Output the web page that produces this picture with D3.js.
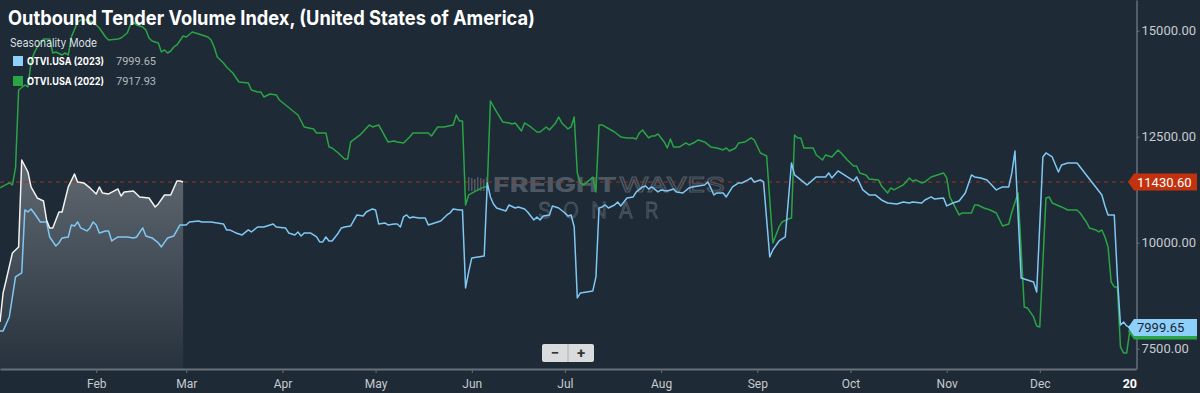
<!DOCTYPE html>
<html>
<head>
<meta charset="utf-8">
<script src="https://cdn.jsdelivr.net/npm/d3@7"></script>
<style>
    body { margin: 0; background: #1e2a36; }
    svg { display: block; }
</style>
</head>
<body>
<svg id="chart" width="1200" height="393"></svg>
<script>
// day offset from Jan 1 (seasonal year), value
const otvi2024 = [
    [0, 8131], [1, 8815], [2, 9121], [4, 9758], [6, 9900], [7, 11951], [9, 11668],
    [10, 11315], [12, 11055], [14, 10984], [15, 10536], [16, 10348], [17, 10348],
    [19, 10725], [20, 10725], [22, 11315], [24, 11621], [25, 11433], [27, 11409],
    [29, 11291], [31, 11150], [32, 11315], [33, 11173], [35, 11150], [38, 11268],
    [39, 11102], [40, 11197], [43, 11220], [45, 11079], [48, 11055], [50, 10843],
    [51, 10914], [53, 11126], [55, 11126], [57, 11456], [58, 11456], [59, 11430.6]
];

const otvi2023 = [
    [0, 7919], [1, 7919], [3, 8249], [4, 8721], [5, 9192], [7, 9287], [8, 10772],
    [9, 10725], [10, 10796], [11, 10701], [13, 10489], [15, 10489], [16, 10135],
    [18, 9923], [19, 9994], [20, 10112], [22, 10135], [23, 10419], [24, 10395],
    [25, 10489], [26, 10348], [28, 10277], [29, 10348], [30, 10489], [31, 10419],
    [32, 10230], [34, 10277], [35, 10277], [36, 10041], [38, 10135], [41, 10135],
    [43, 10112], [44, 10135], [46, 10348], [47, 10159], [49, 10112], [51, 9994],
    [52, 9900], [54, 10112], [56, 10159], [58, 10419], [60, 10419], [61, 10489],
    [64, 10513], [65, 10489], [68, 10489], [72, 10442], [73, 10301], [74, 10301],
    [76, 10230], [78, 10183], [80, 10301], [81, 10253], [83, 10371], [85, 10371],
    [88, 10442], [89, 10371], [92, 10348], [93, 10230], [95, 10183], [96, 10253],
    [97, 10159], [98, 10230], [100, 10230], [102, 10135], [103, 10018], [104, 10018],
    [105, 10135], [106, 10041], [107, 10041], [109, 10230], [110, 10348], [111, 10371],
    [113, 10395], [115, 10654], [117, 10631], [118, 10725], [120, 10796], [121, 10772],
    [122, 10442], [124, 10466], [125, 10419], [127, 10442], [128, 10442], [129, 10371],
    [130, 10607], [131, 10654], [132, 10584], [133, 10607], [135, 10584], [137, 10584],
    [138, 10419], [140, 10466], [142, 10513], [144, 10654], [145, 10701], [146, 10796],
    [148, 10772], [149, 10772], [150, 8933], [151, 9310], [152, 9640], [154, 9664],
    [156, 9687], [157, 11409], [158, 11079], [159, 10914], [160, 10819], [163, 10749],
    [164, 10890], [166, 10819], [167, 10843], [169, 10796], [170, 10725], [172, 10536],
    [173, 10607], [174, 10536], [175, 10631], [177, 10654], [178, 10867], [179, 10843],
    [180, 10819], [182, 10701], [183, 10631], [184, 10654], [185, 10371], [186, 8697],
    [187, 8815], [189, 8839], [191, 8862], [192, 9192], [193, 10819], [194, 10843],
    [195, 10890], [196, 10819], [198, 10890], [199, 10961], [200, 10867], [202, 11055],
    [204, 11079], [205, 11197], [207, 11315], [208, 11338], [209, 11268], [210, 11315],
    [212, 11197], [213, 11244], [215, 11220], [217, 11268], [218, 11197], [220, 11173],
    [222, 11291], [223, 11315], [225, 11338], [227, 11362], [228, 11433], [229, 11291],
    [230, 11126], [231, 11173], [233, 11173], [234, 11079], [236, 11315], [238, 11409],
    [239, 11409], [241, 11480], [242, 11527], [243, 11433], [245, 11480], [246, 11433],
    [248, 9664], [249, 9829], [251, 10041], [253, 10135], [255, 11880], [256, 11598],
    [258, 11480], [260, 11362], [263, 11551], [266, 11551], [267, 11645], [268, 11527],
    [270, 11692], [272, 11598], [275, 11456], [276, 11551], [278, 11244], [280, 11126],
    [282, 11126], [284, 11008], [286, 10937], [289, 10914], [291, 10961], [293, 10937],
    [294, 10961], [297, 10937], [298, 11008], [300, 11079], [301, 11032], [304, 11055],
    [305, 10867], [307, 10937], [309, 10984], [311, 11173], [313, 11598], [314, 11551],
    [316, 11527], [318, 11480], [321, 11244], [323, 11315], [325, 11315], [326, 11645],
    [327, 12163], [329, 9169], [331, 9121], [333, 9074], [334, 8838], [336, 12022],
    [337, 12116], [339, 12022], [341, 11668], [342, 11833], [344, 11880], [347, 11880],
    [348, 11786], [350, 11598], [351, 11503], [353, 11315], [355, 11126], [356, 10867],
    [357, 10654], [359, 10654], [360, 9192], [361, 8060], [362, 8131], [363, 8037],
    [364, 7999.65]
];

const otvi2022 = [
    [0, 11291], [3, 11409], [4, 11362], [5, 11763], [6, 13602], [8, 13720], [9, 13673],
    [10, 14262], [11, 14474], [12, 14616], [14, 14804], [16, 14804], [17, 14474],
    [18, 14498], [20, 14427], [21, 14474], [22, 14427], [23, 14852], [25, 15205],
    [26, 15252], [28, 15252], [30, 15205], [31, 15135], [32, 15064], [34, 14852],
    [35, 14781], [38, 14804], [39, 14828], [41, 14946], [42, 15135], [43, 15205],
    [44, 15135], [46, 15087], [47, 15017], [48, 14828], [49, 14757], [51, 14710],
    [52, 14498], [53, 14545], [54, 14474], [55, 14521], [56, 14616], [57, 14663],
    [59, 14875], [60, 14852], [62, 14969], [63, 14946], [65, 14899], [67, 14852],
    [68, 14781], [69, 14616], [70, 14380], [72, 14238], [73, 14144], [75, 14003],
    [77, 13790], [80, 13767], [81, 13602], [83, 13555], [84, 13555], [85, 13437],
    [87, 13508], [89, 13484], [90, 13366], [92, 13248], [96, 13012], [98, 12729],
    [101, 12682], [102, 12588], [105, 12588], [106, 12258], [107, 12234], [109, 12116],
    [111, 11975], [112, 11975], [113, 12376], [116, 12541], [119, 12777], [120, 12729],
    [122, 12777], [125, 12376], [127, 12399], [128, 12376], [130, 12352], [132, 12494],
    [133, 12588], [138, 12588], [139, 12517], [141, 12729], [143, 12729], [146, 12777],
    [147, 13012], [148, 12871], [149, 12871], [150, 10890], [151, 11126], [154, 11244],
    [156, 11315], [157, 11315], [158, 13342], [160, 13083], [162, 12847], [164, 12824],
    [165, 12800], [166, 12824], [168, 12635], [169, 12824], [170, 12777], [171, 12729],
    [173, 12611], [174, 12611], [176, 12729], [177, 12659], [179, 12824], [180, 12965],
    [181, 12824], [183, 12682], [184, 12729], [185, 12965], [186, 11645], [187, 11409],
    [188, 11362], [190, 11480], [191, 11550], [192, 11197], [193, 12777], [194, 12777],
    [198, 12611], [200, 12494], [202, 12470], [204, 12470], [205, 12446], [206, 12588],
    [207, 12659], [209, 12470], [210, 12517], [211, 12517], [212, 12564], [214, 12376],
    [215, 12234], [216, 12446], [217, 12258], [219, 12258], [221, 12352], [222, 12305],
    [224, 12376], [225, 12423], [227, 12376], [229, 12258], [231, 12234], [233, 12187],
    [234, 12234], [235, 12163], [237, 12234], [238, 12352], [240, 12376], [242, 12470],
    [243, 12423], [245, 12116], [247, 12045], [249, 9994], [250, 10183], [251, 10371],
    [252, 10489], [254, 10560], [255, 10584], [256, 12541], [257, 12470], [258, 12470],
    [259, 12234], [262, 12234], [263, 12069], [265, 11951], [266, 12069], [268, 12022],
    [270, 12187], [271, 12116], [273, 11951], [275, 11810], [276, 11810], [277, 11645],
    [279, 11598], [280, 11503], [283, 11480], [284, 11338], [286, 11173], [287, 11291],
    [288, 11244], [291, 11362], [293, 11527], [294, 11456], [295, 11480], [297, 11409],
    [298, 11433], [300, 11550], [304, 11645], [305, 11527], [306, 11079], [309, 10654],
    [310, 10701], [313, 10701], [314, 10890], [315, 10890], [317, 10819], [319, 10772],
    [321, 10701], [323, 10395], [325, 10442], [326, 10725], [328, 11173], [330, 8485],
    [331, 8461], [333, 8249], [334, 8037], [335, 8013], [337, 11055], [338, 11079],
    [339, 10937], [342, 10843], [344, 10772], [347, 10772], [348, 10701], [350, 10489],
    [351, 10347], [353, 10300], [354, 10253], [355, 10300], [356, 10135], [357, 9900],
    [358, 9074], [359, 8956], [360, 8956], [361, 7542], [362, 7400], [363, 7400],
    [364, 7917.93]
];

const yTicks = [7500, 10000, 12500, 15000];
const monthTicks = ["Feb", "Mar", "Apr", "May", "Jun", "Jul", "Aug", "Sep", "Oct", "Nov", "Dec"];
const endLabel = "20";
const refLine = 11430.6;
const legendNames = ["OTVI.USA (2023)", "OTVI.USA (2022)"];
const legendValues = ["7999.65", "7917.93"];

const bg = "#1e2a36";
const blue = "#80c8f4";
const green = "#2aa545";
const axisGrey = "#66707a";
const labelGrey = "#c6cbd0";

const svg = d3.select("#chart");
svg.append("rect").attr("width", 1200).attr("height", 393).attr("fill", bg);

const plotRight = 1136;
const plotBottom = 369;

const t0 = Date.UTC(2024, 0, 1);
const day = 864e5;
const toDate = (d) => new Date(t0 + d * day);

const x = d3.scaleUtc()
    .domain([new Date(t0), new Date(Date.UTC(2025, 0, 1))])
    .range([0, plotRight]);
const y = d3.scaleLinear()
    .domain([7021, 15724])
    .range([plotBottom, 0]);

const defs = svg.append("defs");
defs.append("clipPath").attr("id", "plot-clip")
    .append("rect").attr("x", 0).attr("y", 0)
    .attr("width", plotRight).attr("height", plotBottom);

const grad = defs.append("linearGradient")
    .attr("id", "area-grad")
    .attr("gradientUnits", "userSpaceOnUse")
    .attr("x1", 0).attr("x2", 0)
    .attr("y1", y(12000)).attr("y2", plotBottom);
grad.append("stop").attr("offset", 0).attr("stop-color", "#ffffff").attr("stop-opacity", 0.3);
grad.append("stop").attr("offset", 1).attr("stop-color", "#ffffff").attr("stop-opacity", 0.04);

// watermark
const wm = svg.append("g").attr("id", "watermark").attr("opacity", 0.5);
d3.range(7).forEach((i) => {
    wm.append("rect")
        .attr("x", 468 + i * 3).attr("y", 177 + (i % 3))
        .attr("width", 1.5).attr("height", 14 - (i % 3))
        .attr("fill", "#7d8690");
});
wm.append("text")
    .attr("x", 493).attr("y", 192)
    .attr("textLength", 124).attr("lengthAdjust", "spacingAndGlyphs")
    .style("font", "800 20px Inter, sans-serif")
    .attr("fill", "#7d8690")
    .text("FREIGHT");
wm.append("text")
    .attr("x", 619).attr("y", 192)
    .attr("textLength", 106).attr("lengthAdjust", "spacingAndGlyphs")
    .style("font", "400 20px Inter, sans-serif")
    .attr("fill", "none").attr("stroke", "#7d8690").attr("stroke-width", 1)
    .text("WAVES");
wm.append("text")
    .attr("x", 538).attr("y", 218)
    .attr("textLength", 120).attr("lengthAdjust", "spacing")
    .style("font", "300 21px Inter, sans-serif")
    .attr("fill", "none").attr("stroke", "#7d8690").attr("stroke-width", 0.9)
    .text("SONAR");

const plot = svg.append("g").attr("clip-path", "url(#plot-clip)");

const line = d3.line()
    .x((d) => x(toDate(d[0])))
    .y((d) => y(d[1]));
const area = d3.area()
    .x((d) => x(toDate(d[0])))
    .y0(plotBottom)
    .y1((d) => y(d[1]));

plot.append("path")
    .datum(otvi2024)
    .attr("d", area)
    .attr("fill", "url(#area-grad)");

plot.append("line")
    .attr("x1", 0).attr("x2", plotRight)
    .attr("y1", y(refLine)).attr("y2", y(refLine))
    .attr("stroke", "#9c3322").attr("stroke-width", 1)
    .attr("stroke-dasharray", "4,4");

const series = [
    { data: otvi2022, color: green },
    { data: otvi2023, color: blue },
    { data: otvi2024, color: "#f2f2f2" },
];
series.forEach((s) => {
    plot.append("path")
        .datum(s.data)
        .attr("d", line)
        .attr("fill", "none")
        .attr("stroke", s.color)
        .attr("stroke-width", 1.5)
        .attr("stroke-linejoin", "round");
});

// bottom axis
const monthDates = monthTicks.map((m, i) => new Date(Date.UTC(2024, i + 1, 1)));
const xAxis = svg.append("g")
    .attr("transform", `translate(0,${plotBottom})`)
    .call(d3.axisBottom(x)
        .tickValues(monthDates)
        .tickFormat((d, i) => monthTicks[i])
        .tickSizeInner(4).tickSizeOuter(0).tickPadding(6));
xAxis.select(".domain").attr("stroke", axisGrey).attr("stroke-width", 2);
xAxis.selectAll(".tick line").attr("stroke", axisGrey);
xAxis.selectAll("text")
    .attr("fill", labelGrey)
    .style("font", "12px Roboto, sans-serif");
xAxis.append("text")
    .attr("x", x(new Date(Date.UTC(2025, 0, 1))) + 1)
    .attr("y", 19)
    .attr("text-anchor", "end")
    .attr("fill", "#ffffff")
    .style("font", "bold 12.5px Roboto, sans-serif")
    .text(endLabel);

// right axis
const yAxis = svg.append("g")
    .attr("transform", `translate(${plotRight + 0.5},0)`)
    .call(d3.axisRight(y)
        .tickValues(yTicks)
        .tickFormat(d3.format(".2f"))
        .tickSizeInner(3).tickSizeOuter(0).tickPadding(2));
yAxis.select(".domain").attr("stroke", axisGrey).attr("stroke-width", 1.5);
yAxis.selectAll(".tick line").attr("stroke", axisGrey);
yAxis.selectAll("text")
    .attr("fill", labelGrey)
    .style("font", "13px Roboto, sans-serif");

// value flags on the right axis
function flag(value, text, fill, textColor) {
    const cy = y(value);
    const g = svg.append("g").attr("transform", `translate(0,${cy})`);
    g.append("path")
        .attr("d", `M${plotRight - 8},0 L${plotRight - 2},-8.5 L1197,-8.5 L1197,8.5 L${plotRight - 2},8.5 Z`)
        .attr("fill", fill);
    g.append("text")
        .attr("x", plotRight + 1).attr("y", 4.5)
        .attr("fill", textColor)
        .style("font", "13px Roboto, sans-serif")
        .text(text);
}
flag(otvi2022[otvi2022.length - 1][1], "", green, bg);
flag(otvi2023[otvi2023.length - 1][1], d3.format(".2f")(otvi2023[otvi2023.length - 1][1]), "#8dd0fb", "#1b2631");
flag(refLine, d3.format(".2f")(refLine), "#c1330f", "#ffffff");

// title and legend
svg.append("text")
    .attr("x", 8).attr("y", 25)
    .attr("fill", "#ffffff")
    .attr("textLength", 527).attr("lengthAdjust", "spacingAndGlyphs")
    .style("font", "bold 20px Inter, sans-serif")
    .text("Outbound Tender Volume Index, (United States of America)");

svg.append("text")
    .attr("x", 10).attr("y", 47)
    .attr("fill", "#dde1e5")
    .attr("textLength", 87).attr("lengthAdjust", "spacingAndGlyphs")
    .style("font", "11.5px Inter, sans-serif")
    .text("Seasonality Mode");

const legendColors = ["#8dd0fb", "#2aa545"];
legendNames.forEach((name, i) => {
    const ly = 56 + i * 20;
    svg.append("rect")
        .attr("x", 13).attr("y", ly)
        .attr("width", 10).attr("height", 10)
        .attr("fill", legendColors[i]);
    svg.append("text")
        .attr("x", 27).attr("y", ly + 9)
        .attr("fill", "#ffffff")
        .attr("textLength", 77).attr("lengthAdjust", "spacingAndGlyphs")
        .style("font", "bold 10.5px Inter, sans-serif")
        .text(name);
    svg.append("text")
        .attr("x", 156).attr("y", ly + 9)
        .attr("text-anchor", "end")
        .attr("fill", "#b4b9be")
        .style("font", "11px Roboto, sans-serif")
        .text(legendValues[i]);
});

// zoom buttons
const zb = svg.append("g").attr("transform", "translate(542,344)");
zb.append("rect")
    .attr("width", 52).attr("height", 18).attr("rx", 2)
    .attr("fill", "#d9dbdd");
zb.append("line")
    .attr("x1", 26).attr("x2", 26).attr("y1", 0).attr("y2", 18)
    .attr("stroke", "#aeb2b6");
zb.append("text").attr("x", 13).attr("y", 14).attr("text-anchor", "middle")
    .attr("fill", "#333").style("font", "bold 15px Roboto, sans-serif").text("\u2212");
zb.append("text").attr("x", 39).attr("y", 14).attr("text-anchor", "middle")
    .attr("fill", "#333").style("font", "bold 15px Roboto, sans-serif").text("+");
</script>
</body>
</html>
